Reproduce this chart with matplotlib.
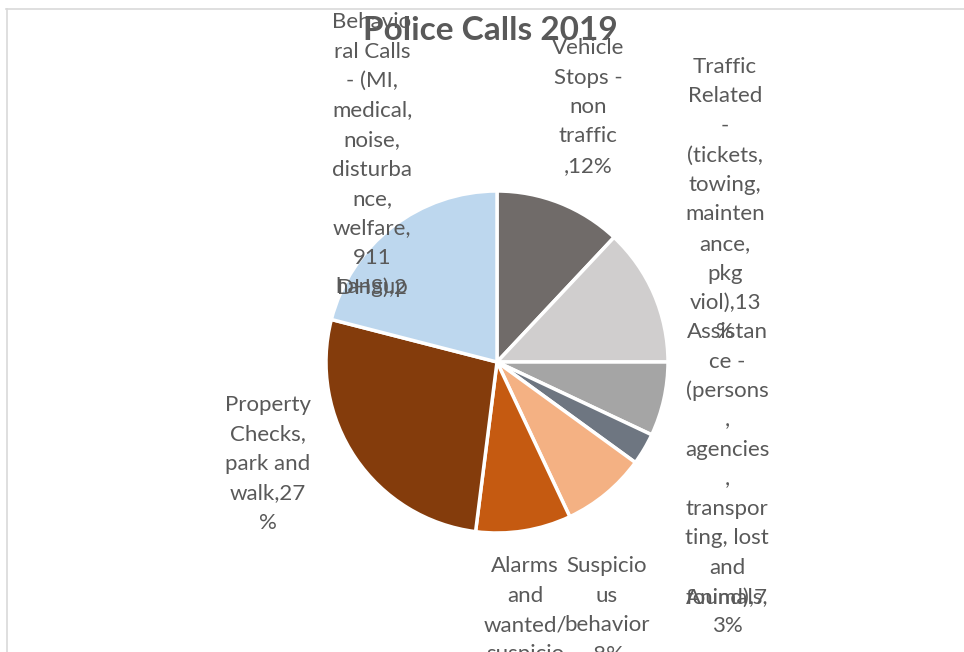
import matplotlib.pyplot as plt
from matplotlib.lines import Line2D

# данные (по часовой стрелке от 12 часов)
categories = ['Vehicle Stops - non traffic', 'Traffic Related', 'Assistance',
              'Animals', 'Suspicious behavior', 'Alarms and wanted/suspicious',
              'Property Checks, park and walk', 'Behavioral Calls']
values = [12, 13, 7, 3, 8, 9, 27, 21]
colors = ['#706B69', '#D0CECE', '#A5A5A5', '#6E7681',
          '#F4B183', '#C55A11', '#843C0C', '#BDD7EE']

# подписи так, как их перенёс Excel (строки)
label_lines = [
    ['Vehicle', 'Stops -', 'non', 'traffic', ',12%'],
    ['Traffic', 'Related', '-', '(tickets,', 'towing,', 'mainten', 'ance,', 'pkg', 'viol),13', '%'],
    ['Assistan', 'ce -', '(persons', ',', 'agencies', ',', 'transpor', 'ting, lost', 'and', 'found),7'],
    ['Animals,', '3%'],
    ['Suspicio', 'us', 'behavior', ',8%'],
    ['Alarms', 'and', 'wanted/', 'suspicio', 'us,9%'],
    ['Property', 'Checks,', 'park and', 'walk,27', '%'],
    ['Behavio', 'ral Calls', '- (MI,', 'medical,', 'noise,', 'disturba', 'nce,', 'welfare,', '911', 'hangup'],
]
extra_line = 'DHS),2'  # наезжает на 'hangup'

W, H = 964, 652
fig = plt.figure(figsize=(W / 100, H / 100), dpi=100)
ax = fig.add_axes([0, 0, 1, 1])

ax.pie(values, colors=colors, startangle=90, counterclock=False,
       center=(497, H - 362), radius=171,
       wedgeprops=dict(edgecolor='white', linewidth=2.5))
ax.set_xlim(0, W)
ax.set_ylim(0, H)
ax.set_aspect('equal')
ax.axis('off')

font = 'Lato'
txt_color = '#595959'
step = 29.5

# позиции первой строки каждой подписи (пиксели)
label_pos = [(588, 48), (725, 67), (727, 332), (727, 597),
             (607, 566), (525, 566), (268, 405), (372, 22)]

def put(x, y, s, **kw):
    fig.text(x / W, 1 - y / H, s, ha='center', va='center', color=txt_color,
             family=font, **kw)

for lines, (x0, y0) in zip(label_lines, label_pos):
    for i, s in enumerate(lines):
        put(x0, y0 + i * step, s, fontsize=16)
put(372, 288, extra_line, fontsize=16)

put(490, 31, 'Police Calls 2019', fontsize=24, fontweight='bold')

# рамка скриншота
fig.add_artist(Line2D([6 / W, 1], [1 - 8.5 / H, 1 - 8.5 / H], color='#D9D9D9', lw=1.2))
fig.add_artist(Line2D([6.5 / W, 6.5 / W], [0, 1 - 8.5 / H], color='#D9D9D9', lw=1.2))

fig.savefig('out.png', dpi=100)
